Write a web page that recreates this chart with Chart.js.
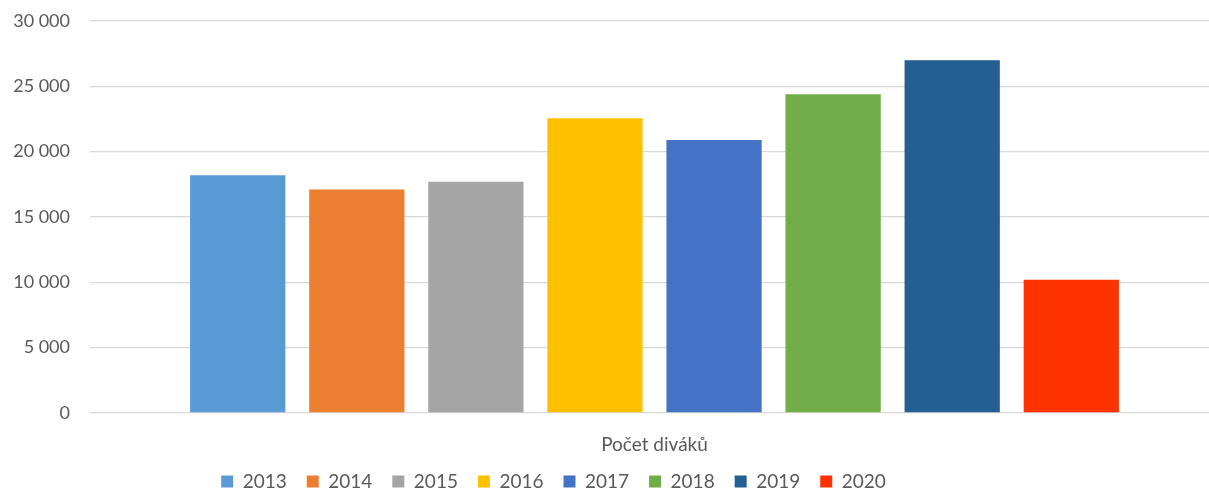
<!DOCTYPE html>
<html><head><meta charset="utf-8">
<script src="https://cdn.jsdelivr.net/npm/chart.js@4/dist/chart.umd.min.js"></script>
<style>html,body{margin:0;padding:0;background:#fff}#w{width:1209px;height:492px}</style>
</head><body><div id="w"><canvas id="c"></canvas></div>
<script>
const categories = ['Počet diváků'];
const years = ['2013','2014','2015','2016','2017','2018','2019','2020'];
const values = [18200, 17100, 17700, 22550, 20900, 24400, 27000, 10200];
const colors = ['#5B9BD5','#ED7D31','#A5A5A5','#FFC000','#4472C4','#70AD47','#255E91','#FF3300'];
const yTicks = [0, 5000, 10000, 15000, 20000, 25000, 30000];

const fontFam = "Lato, 'Open Sans', sans-serif";
const datasets = years.map((y, i) => ({
  label: y, data: [values[i]], backgroundColor: colors[i],
  barPercentage: 0.8, categoryPercentage: 0.859
}));
const legendShift = {
  id: 'legendShift',
  afterLayout(chart) {
    const l = chart.legend;
    if (l) { l.left -= 51; l.right -= 51; }
  }
};
const chart = new Chart(document.getElementById('c'), {
  type: 'bar',
  data: { labels: categories, datasets },
  plugins: [legendShift],
  options: {
    responsive: true, maintainAspectRatio: false, animation: false,
    layout: { padding: { top: 21, right: 0, left: 0, bottom: 0 } },
    plugins: {
      tooltip: { enabled: false },
      legend: {
        position: 'bottom',
        labels: { boxWidth: 12, boxHeight: 12, padding: 20, color: '#595959',
          font: { family: fontFam, size: 19 } }
      }
    },
    scales: {
      x: {
        afterFit: s => { s.height = 39; },
        grid: { display: false }, border: { display: false },
        ticks: { color: '#595959', padding: 12, font: { family: fontFam, size: 19 } }
      },
      y: {
        min: 0, max: 30000,
        afterFit: s => { s.width = 100; s.paddingTop = 0; s.paddingBottom = 0; },
        afterBuildTicks: s => { s.ticks = yTicks.map(v => ({ value: v })); },
        grid: { color: '#d9d9d9', lineWidth: 1.3, drawTicks: true, tickLength: 10 },
        border: { display: false },
        ticks: { color: '#595959', padding: 20, font: { family: fontFam, size: 18 },
          callback: v => v.toString().replace(/\B(?=(\d{3})+(?!\d))/g, ' ') }
      }
    }
  }
});
const L = chart.legend;
const origFit = L.fit.bind(L);
L.fit = function () { origFit(); this.height = 40; };
chart.update();
</script></body></html>
